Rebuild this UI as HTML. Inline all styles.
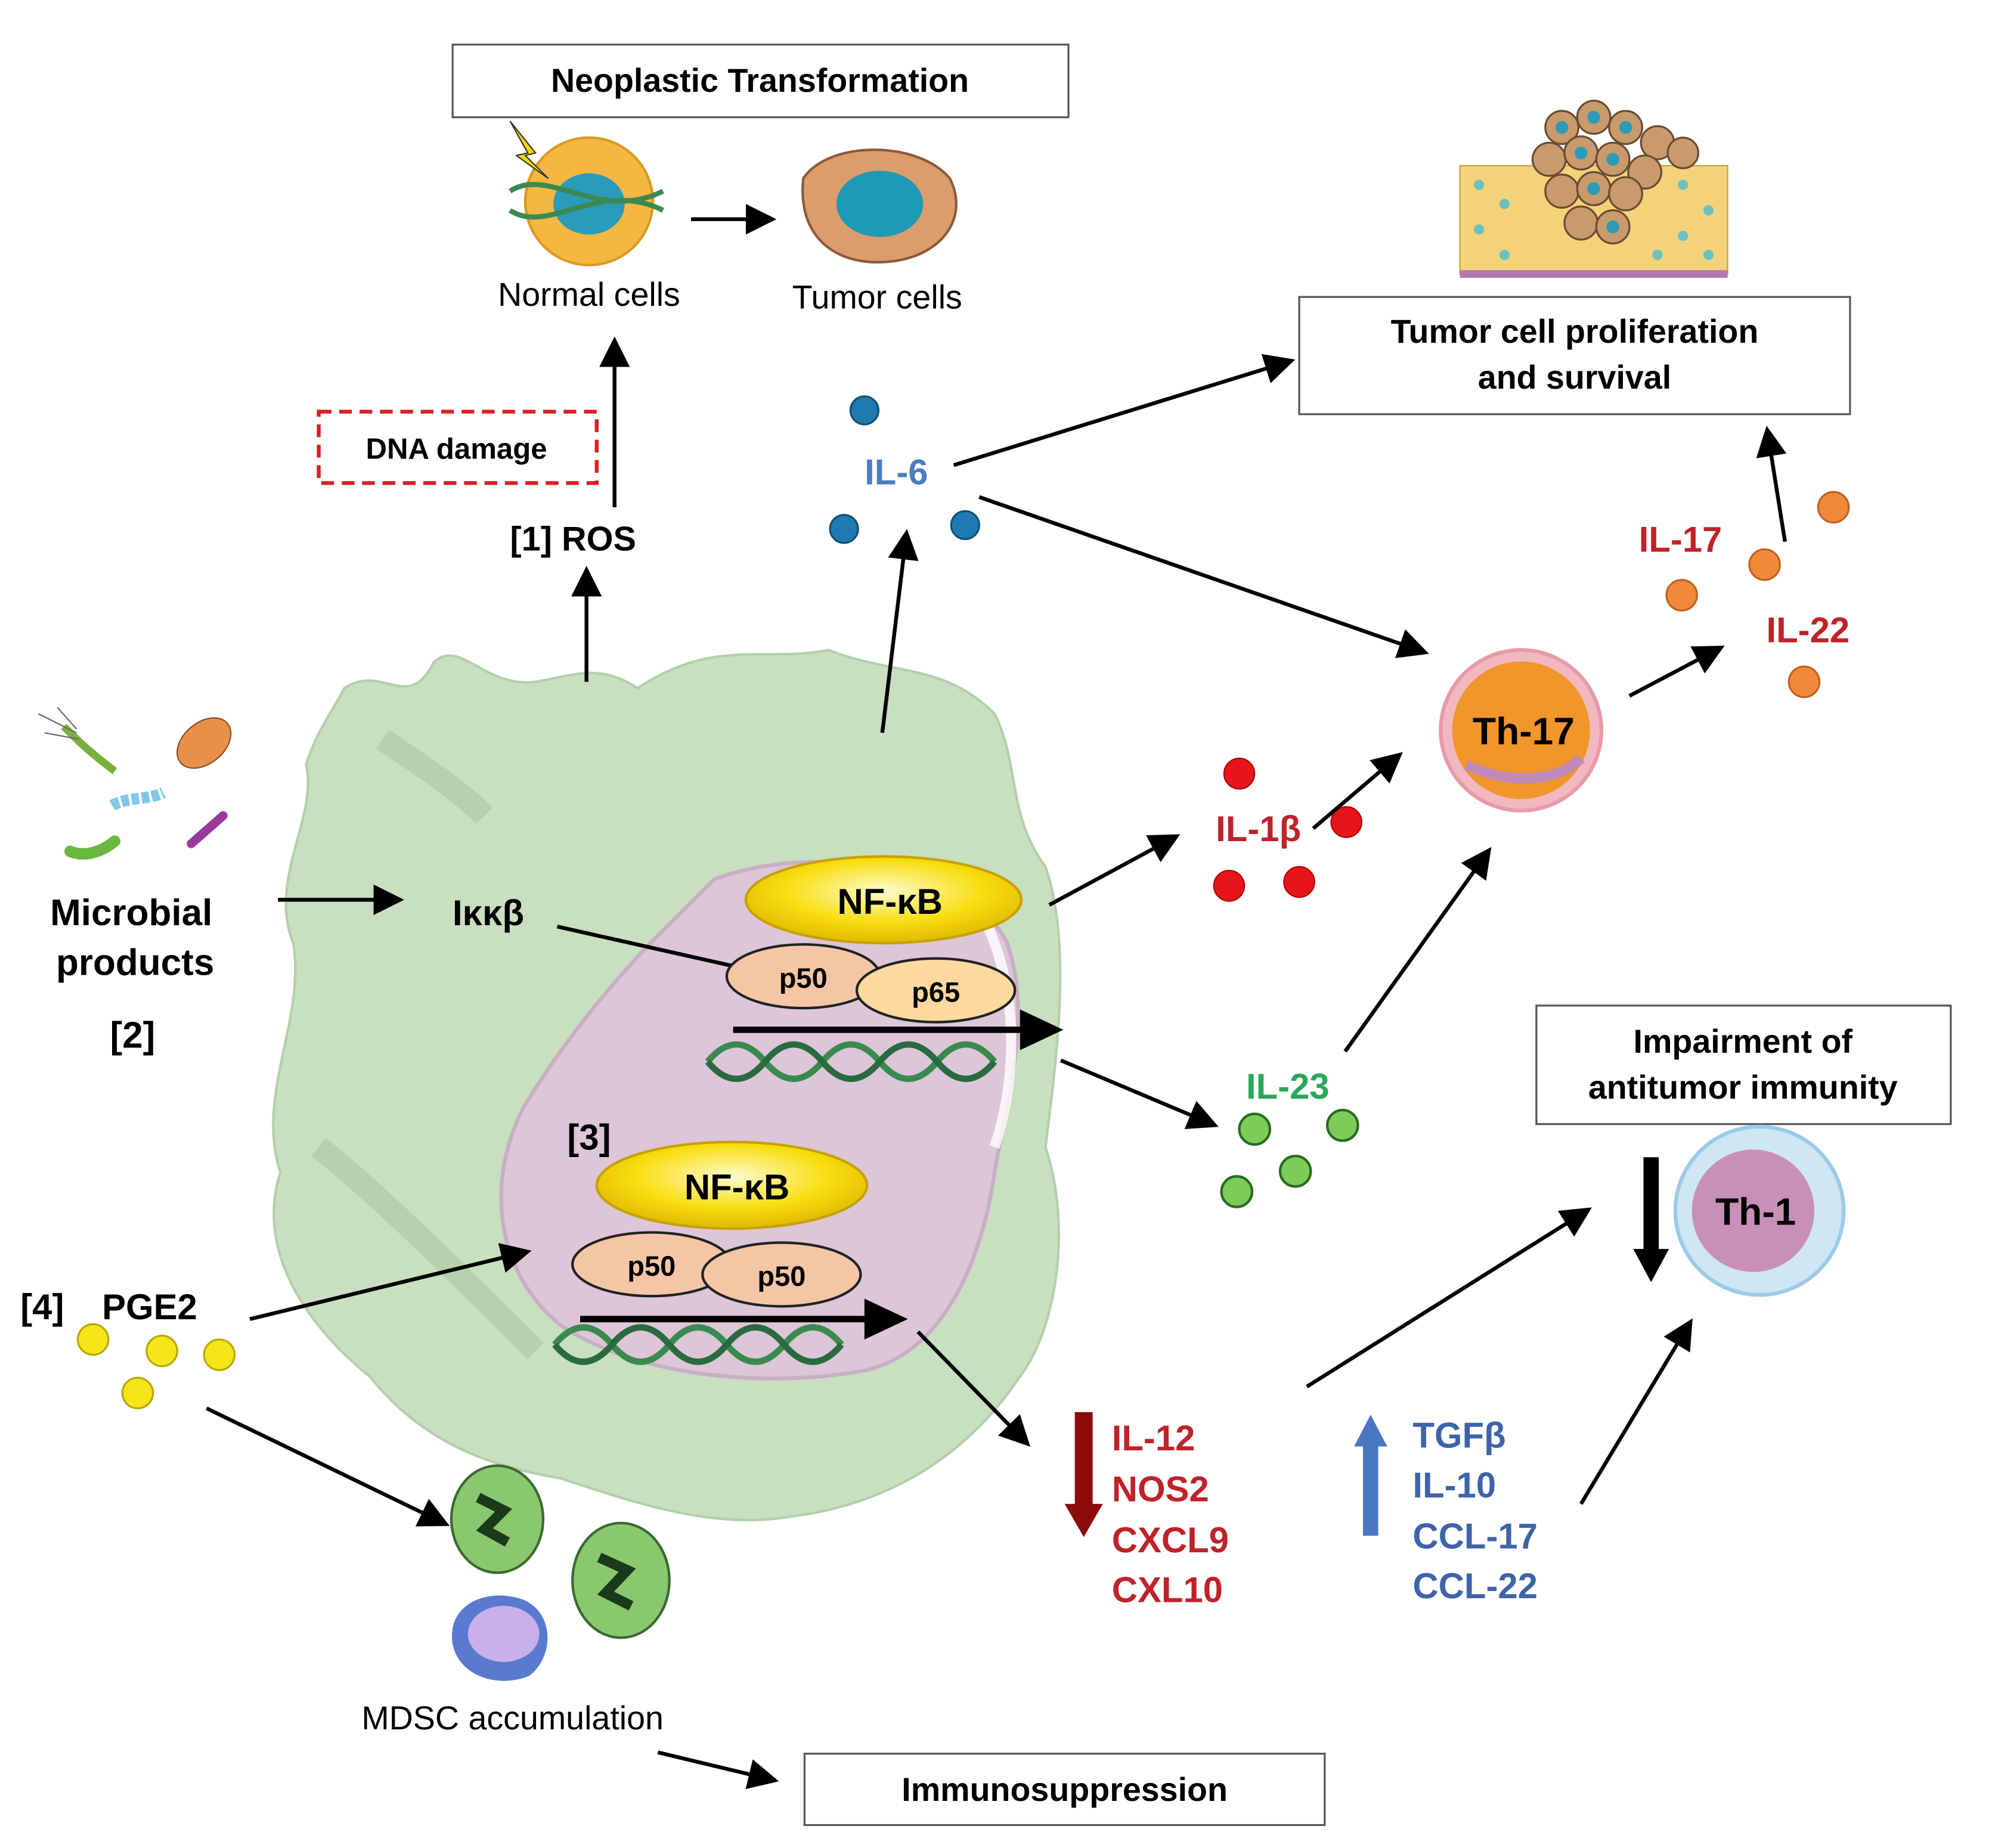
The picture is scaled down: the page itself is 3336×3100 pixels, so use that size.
<!DOCTYPE html>
<html><head><meta charset="utf-8"><style>
html,body{margin:0;padding:0;background:#fff;}
svg{display:block;}
text{font-family:"Liberation Sans",sans-serif;}
.b{font-weight:bold;}
</style></head><body>
<svg width="3336" height="3100" viewBox="0 0 1560 1450" preserveAspectRatio="none" xmlns="http://www.w3.org/2000/svg">
<defs>
<marker id="a" markerWidth="8" markerHeight="8" refX="7" refY="4" orient="auto" markerUnits="strokeWidth"><path d="M0,0 L8,4 L0,8 Z" fill="#000"/></marker>
<marker id="ab" markerWidth="4" markerHeight="4" refX="2" refY="2" orient="auto" markerUnits="strokeWidth"><path d="M0,0 L4,2 L0,4 Z" fill="#000"/></marker>
<radialGradient id="ny" cx="50%" cy="40%" r="60%"><stop offset="0" stop-color="#fffbd0"/><stop offset="0.6" stop-color="#f8de10"/><stop offset="1" stop-color="#e0b800"/></radialGradient>
</defs>
<rect width="1560" height="1450" fill="#fff"/>
<!-- big cell -->
<path d="M270,540 C300,520 320,560 340,520 C360,500 380,540 420,535 C450,530 470,520 500,540 C560,500 600,520 650,510 C700,530 740,520 780,560 C800,600 790,640 820,680 C840,740 830,820 820,900 C840,960 830,1040 800,1080 C760,1140 700,1180 620,1190 C560,1200 500,1180 440,1160 C380,1150 330,1130 290,1080 C240,1040 200,980 220,920 C200,860 240,800 230,740 C210,690 250,640 240,600 C250,570 260,560 270,540 Z" fill="#c8dfc0" stroke="#b4cfac" stroke-width="2"/>
<path d="M300,580 C330,600 360,620 380,640 M250,900 C300,940 360,1000 420,1060" stroke="#a9c8a0" stroke-width="18" fill="none" opacity="0.6"/>
<!-- nucleus -->
<path d="M560,690 C640,660 760,680 790,740 C810,800 790,860 780,920 C770,990 740,1060 680,1075 C600,1090 500,1080 440,1040 C390,1000 380,930 410,870 C440,820 480,770 520,730 Z" fill="#dcc6d8" stroke="#c9aec6" stroke-width="3"/>
<path d="M760,700 C800,760 800,840 780,900" stroke="#fff" stroke-width="8" fill="none" opacity="0.8"/>
<!-- boxes -->
<rect x="355" y="35" width="483" height="57" fill="#fff" stroke="#555" stroke-width="1.5"/>
<text x="596" y="72" text-anchor="middle" font-size="26" class="b">Neoplastic Transformation</text>
<rect x="1019" y="233" width="432" height="92" fill="#fff" stroke="#555" stroke-width="1.5"/>
<text x="1235" y="269" text-anchor="middle" font-size="26" class="b">Tumor cell proliferation</text>
<text x="1235" y="305" text-anchor="middle" font-size="26" class="b">and survival</text>
<rect x="1205" y="789" width="325" height="93" fill="#fff" stroke="#555" stroke-width="1.5"/>
<text x="1367" y="826" text-anchor="middle" font-size="26" class="b">Impairment of</text>
<text x="1367" y="862" text-anchor="middle" font-size="26" class="b">antitumor immunity</text>
<rect x="631" y="1376" width="408" height="56" fill="#fff" stroke="#555" stroke-width="1.5"/>
<text x="835" y="1413" text-anchor="middle" font-size="26" class="b">Immunosuppression</text>
<rect x="250" y="323" width="218" height="56" fill="none" stroke="#d92020" stroke-width="3" stroke-dasharray="10,6"/>
<text x="358" y="360" text-anchor="middle" font-size="23" class="b">DNA damage</text>
<!-- normal & tumor cells -->
<circle cx="462" cy="158" r="50" fill="#f5b642" stroke="#d99a20" stroke-width="2"/>
<ellipse cx="462" cy="160" rx="28" ry="24" fill="#2a9bb8"/>
<path d="M400,150 C430,130 470,175 520,150 M400,165 C430,185 470,140 520,165" stroke="#3a8a50" stroke-width="4" fill="none"/>
<path d="M400,95 L420,120 L412,122 L430,140 L405,122 L414,120 Z" fill="#f8d800" stroke="#333"/>
<text x="462" y="240" text-anchor="middle" font-size="26">Normal cells</text>
<path d="M630,140 C650,110 720,110 745,140 C760,170 740,200 700,205 C660,210 625,190 630,140 Z" fill="#dc9c6c" stroke="#8b5a3a" stroke-width="2"/>
<ellipse cx="690" cy="160" rx="34" ry="26" fill="#1e9ab5"/>
<text x="688" y="242" text-anchor="middle" font-size="26">Tumor cells</text>
<line x1="542" y1="172" x2="606" y2="172" stroke="#000" stroke-width="3" marker-end="url(#a)"/>
<!-- tissue -->
<g>
<rect x="1145" y="130" width="210" height="85" fill="#f3d27a" stroke="#c9a040"/>
<rect x="1145" y="212" width="210" height="6" fill="#b07ab0"/>
<g fill="#6cc0c0">
<circle cx="1160" cy="145" r="4"/><circle cx="1180" cy="160" r="4"/><circle cx="1160" cy="180" r="4"/><circle cx="1180" cy="200" r="4"/>
<circle cx="1320" cy="145" r="4"/><circle cx="1340" cy="165" r="4"/><circle cx="1320" cy="185" r="4"/><circle cx="1340" cy="200" r="4"/><circle cx="1300" cy="200" r="4"/>
</g>
<g fill="#c89a6c" stroke="#6a4a30" stroke-width="1.5">
<circle cx="1225" cy="100" r="13"/><circle cx="1250" cy="92" r="13"/><circle cx="1275" cy="100" r="13"/><circle cx="1300" cy="112" r="13"/><circle cx="1320" cy="120" r="12"/>
<circle cx="1215" cy="125" r="13"/><circle cx="1240" cy="120" r="13"/><circle cx="1265" cy="125" r="13"/><circle cx="1290" cy="135" r="13"/>
<circle cx="1225" cy="150" r="13"/><circle cx="1250" cy="148" r="13"/><circle cx="1275" cy="152" r="13"/><circle cx="1240" cy="175" r="13"/><circle cx="1265" cy="178" r="13"/>
</g>
<g fill="#2a9bb8"><circle cx="1225" cy="100" r="5"/><circle cx="1250" cy="92" r="5"/><circle cx="1275" cy="100" r="5"/><circle cx="1240" cy="120" r="5"/><circle cx="1265" cy="125" r="5"/><circle cx="1250" cy="148" r="5"/><circle cx="1265" cy="178" r="5"/></g>
</g>
<!-- ROS -->
<text x="400" y="432" font-size="27" class="b">[1] ROS</text>
<line x1="460" y1="535" x2="460" y2="447" stroke="#000" stroke-width="3" marker-end="url(#a)"/>
<line x1="482" y1="398" x2="482" y2="267" stroke="#000" stroke-width="3" marker-end="url(#a)"/>
<!-- IL-6 -->
<text x="703" y="380" text-anchor="middle" font-size="28" class="b" fill="#4a7cc4">IL-6</text>
<g fill="#1f7ab0" stroke="#135070" stroke-width="1.5"><circle cx="678" cy="322" r="11"/><circle cx="662" cy="415" r="11"/><circle cx="757" cy="412" r="11"/></g>
<line x1="692" y1="575" x2="711" y2="418" stroke="#000" stroke-width="3" marker-end="url(#a)"/>
<line x1="748" y1="365" x2="1013" y2="283" stroke="#000" stroke-width="3" marker-end="url(#a)"/>
<line x1="768" y1="390" x2="1118" y2="512" stroke="#000" stroke-width="3" marker-end="url(#a)"/>
<!-- IL-17/22 -->
<text x="1318" y="433" text-anchor="middle" font-size="28" class="b" fill="#c0222a">IL-17</text>
<text x="1418" y="504" text-anchor="middle" font-size="28" class="b" fill="#c0222a">IL-22</text>
<g fill="#f08a3a" stroke="#c06020" stroke-width="1.5"><circle cx="1438" cy="398" r="12"/><circle cx="1384" cy="443" r="12"/><circle cx="1319" cy="467" r="12"/><circle cx="1415" cy="535" r="12"/></g>
<line x1="1400" y1="425" x2="1386" y2="337" stroke="#000" stroke-width="3" marker-end="url(#a)"/>
<!-- Th-17 -->
<circle cx="1193" cy="573" r="63" fill="#f2b8c0" stroke="#e89aa8" stroke-width="3"/>
<circle cx="1193" cy="573" r="54" fill="#f0962a"/>
<path d="M1150,600 C1180,615 1220,615 1240,595" stroke="#c08ab8" stroke-width="8" fill="none"/>
<text x="1195" y="584" text-anchor="middle" font-size="30" class="b">Th-17</text>
<line x1="1278" y1="546" x2="1350" y2="508" stroke="#000" stroke-width="3" marker-end="url(#a)"/>
<!-- IL-1b -->
<text x="987" y="660" text-anchor="middle" font-size="28" class="b" fill="#c0222a">IL-1β</text>
<g fill="#e8141c" stroke="#a00" stroke-width="1"><circle cx="972" cy="607" r="12"/><circle cx="1056" cy="645" r="12"/><circle cx="964" cy="695" r="12"/><circle cx="1019" cy="692" r="12"/></g>
<line x1="1030" y1="650" x2="1098" y2="592" stroke="#000" stroke-width="3" marker-end="url(#a)"/>
<line x1="823" y1="710" x2="923" y2="656" stroke="#000" stroke-width="3" marker-end="url(#a)"/>
<!-- microbes -->
<path d="M50,570 C60,580 70,590 90,605" stroke="#7ab040" stroke-width="6" fill="none"/>
<path d="M30,560 L60,575 M35,575 L62,580 M45,555 L60,572" stroke="#666" stroke-width="1"/>
<ellipse cx="160" cy="583" rx="24" ry="16" fill="#e8904a" stroke="#8b4a1a" transform="rotate(-40 160 583)"/>
<path d="M88,632 C100,625 115,628 128,622" stroke="#80c8e8" stroke-width="9" fill="none" stroke-dasharray="6,2"/>
<path d="M55,668 C65,672 78,670 90,660" stroke="#6ab840" stroke-width="9" fill="none" stroke-linecap="round"/>
<path d="M150,662 L175,640" stroke="#9a3a9a" stroke-width="7" stroke-linecap="round"/>
<text x="103" y="726" text-anchor="middle" font-size="29" class="b">Microbial</text>
<text x="106" y="765" text-anchor="middle" font-size="29" class="b">products</text>
<text x="104" y="822" text-anchor="middle" font-size="29" class="b">[2]</text>
<line x1="218" y1="706" x2="314" y2="706" stroke="#000" stroke-width="3" marker-end="url(#a)"/>
<text x="383" y="726" text-anchor="middle" font-size="28" class="b">Iκκβ</text>
<line x1="437" y1="727" x2="575" y2="758" stroke="#000" stroke-width="3"/>
<!-- NF-kB 1 -->
<ellipse cx="693" cy="706" rx="108" ry="34" fill="url(#ny)" stroke="#c8a000" stroke-width="2"/>
<text x="698" y="717" text-anchor="middle" font-size="28" class="b">NF-κB</text>
<ellipse cx="630" cy="766" rx="60" ry="25" fill="#f5c6a5" stroke="#222" stroke-width="2"/>
<text x="630" y="775" text-anchor="middle" font-size="22" class="b">p50</text>
<ellipse cx="734" cy="777" rx="62" ry="25" fill="#fdd9a0" stroke="#222" stroke-width="2"/>
<text x="734" y="786" text-anchor="middle" font-size="22" class="b">p65</text>
<path d="M555,833 C570,815 585,815 600,833 C615,851 630,851 645,833 C660,815 675,815 690,833 C705,851 720,851 735,833 C750,815 765,815 780,833" stroke="#3a8a50" stroke-width="5" fill="none"/>
<path d="M555,833 C570,851 585,851 600,833 C615,815 630,815 645,833 C660,851 675,851 690,833 C705,815 720,815 735,833 C750,851 765,851 780,833" stroke="#2a6a40" stroke-width="5" fill="none"/>
<line x1="575" y1="808" x2="815" y2="808" stroke="#000" stroke-width="5"/>
<path d="M800,792 L834,808 L800,824 Z" fill="#000"/>
<line x1="832" y1="832" x2="953" y2="883" stroke="#000" stroke-width="3" marker-end="url(#a)"/>
<!-- IL-23 -->
<text x="1010" y="862" text-anchor="middle" font-size="28" class="b" fill="#2aa85a">IL-23</text>
<g fill="#7dcc5a" stroke="#2a6a20" stroke-width="2"><circle cx="984" cy="886" r="12"/><circle cx="1053" cy="883" r="12"/><circle cx="1016" cy="919" r="12"/><circle cx="970" cy="935" r="12"/></g>
<line x1="1055" y1="825" x2="1168" y2="667" stroke="#000" stroke-width="3" marker-end="url(#a)"/>
<!-- NF-kB 2 -->
<text x="462" y="902" text-anchor="middle" font-size="28" class="b">[3]</text>
<ellipse cx="574" cy="930" rx="106" ry="34" fill="url(#ny)" stroke="#c8a000" stroke-width="2"/>
<text x="578" y="941" text-anchor="middle" font-size="28" class="b">NF-κB</text>
<ellipse cx="511" cy="992" rx="62" ry="25" fill="#f5c6a5" stroke="#222" stroke-width="2"/>
<text x="511" y="1001" text-anchor="middle" font-size="22" class="b">p50</text>
<ellipse cx="613" cy="1000" rx="62" ry="25" fill="#f5c6a5" stroke="#222" stroke-width="2"/>
<text x="613" y="1009" text-anchor="middle" font-size="22" class="b">p50</text>
<path d="M435,1055 C450,1037 465,1037 480,1055 C495,1073 510,1073 525,1055 C540,1037 555,1037 570,1055 C585,1073 600,1073 615,1055 C630,1037 645,1037 660,1055" stroke="#3a8a50" stroke-width="5" fill="none"/>
<path d="M435,1055 C450,1073 465,1073 480,1055 C495,1037 510,1037 525,1055 C540,1073 555,1073 570,1055 C585,1037 600,1037 615,1055 C630,1073 645,1073 660,1055" stroke="#2a6a40" stroke-width="5" fill="none"/>
<line x1="455" y1="1035" x2="693" y2="1035" stroke="#000" stroke-width="5"/>
<path d="M678,1019 L712,1035 L678,1051 Z" fill="#000"/>
<line x1="720" y1="1045" x2="806" y2="1133" stroke="#000" stroke-width="3" marker-end="url(#a)"/>
<!-- PGE2 -->
<text x="16" y="1035" font-size="28" class="b">[4]</text>
<text x="80" y="1035" font-size="28" class="b">PGE2</text>
<g fill="#f5e51a" stroke="#b8a800" stroke-width="1.5"><circle cx="73" cy="1051" r="12"/><circle cx="127" cy="1060" r="12"/><circle cx="172" cy="1063" r="12"/><circle cx="108" cy="1093" r="12"/></g>
<line x1="196" y1="1035" x2="414" y2="982" stroke="#000" stroke-width="3" marker-end="url(#a)"/>
<line x1="162" y1="1105" x2="350" y2="1196" stroke="#000" stroke-width="3" marker-end="url(#a)"/>
<!-- MDSC -->
<ellipse cx="390" cy="1192" rx="36" ry="42" fill="#8ac870" stroke="#3a6a30" stroke-width="2"/>
<path d="M375,1175 L395,1185 L380,1200 L398,1210" stroke="#1a3a1a" stroke-width="8" fill="none"/>
<ellipse cx="487" cy="1240" rx="38" ry="45" fill="#8ac870" stroke="#3a6a30" stroke-width="2"/>
<path d="M470,1222 L492,1232 L475,1250 L495,1260" stroke="#1a3a1a" stroke-width="8" fill="none"/>
<path d="M355,1290 C350,1260 380,1245 410,1255 C435,1265 435,1300 415,1315 C390,1325 360,1315 355,1290 Z" fill="#5a7ad0"/>
<ellipse cx="395" cy="1282" rx="28" ry="22" fill="#c8b0e8"/>
<text x="402" y="1357" text-anchor="middle" font-size="26">MDSC accumulation</text>
<line x1="516" y1="1375" x2="608" y2="1397" stroke="#000" stroke-width="3" marker-end="url(#a)"/>
<!-- IL-12 list -->
<rect x="843" y="1108" width="14" height="75" fill="#8b0a0a"/>
<path d="M835,1180 L865,1180 L850,1206 Z" fill="#8b0a0a"/>
<g font-size="28" class="b" fill="#c0222a">
<text x="872" y="1138">IL-12</text><text x="872" y="1178">NOS2</text><text x="872" y="1218">CXCL9</text><text x="872" y="1257">CXL10</text>
</g>
<line x1="1025" y1="1088" x2="1246" y2="949" stroke="#000" stroke-width="3" marker-end="url(#a)"/>
<rect x="1069" y="1132" width="12" height="73" fill="#4a78c0"/>
<path d="M1062,1135 L1088,1135 L1075,1110 Z" fill="#4a78c0"/>
<g font-size="28" class="b" fill="#3e63a8">
<text x="1108" y="1136">TGFβ</text><text x="1108" y="1175">IL-10</text><text x="1108" y="1215">CCL-17</text><text x="1108" y="1254">CCL-22</text>
</g>
<line x1="1240" y1="1180" x2="1326" y2="1037" stroke="#000" stroke-width="3" marker-end="url(#a)"/>
<!-- Th-1 -->
<rect x="1289" y="908" width="12" height="75" fill="#000"/>
<path d="M1281,980 L1309,980 L1295,1006 Z" fill="#000"/>
<circle cx="1380" cy="950" r="66" fill="#cfe6f5" stroke="#9ccbe8" stroke-width="3"/>
<circle cx="1375" cy="950" r="48" fill="#c890b8"/>
<text x="1377" y="961" text-anchor="middle" font-size="30" class="b">Th-1</text>
</svg>
</body></html>
